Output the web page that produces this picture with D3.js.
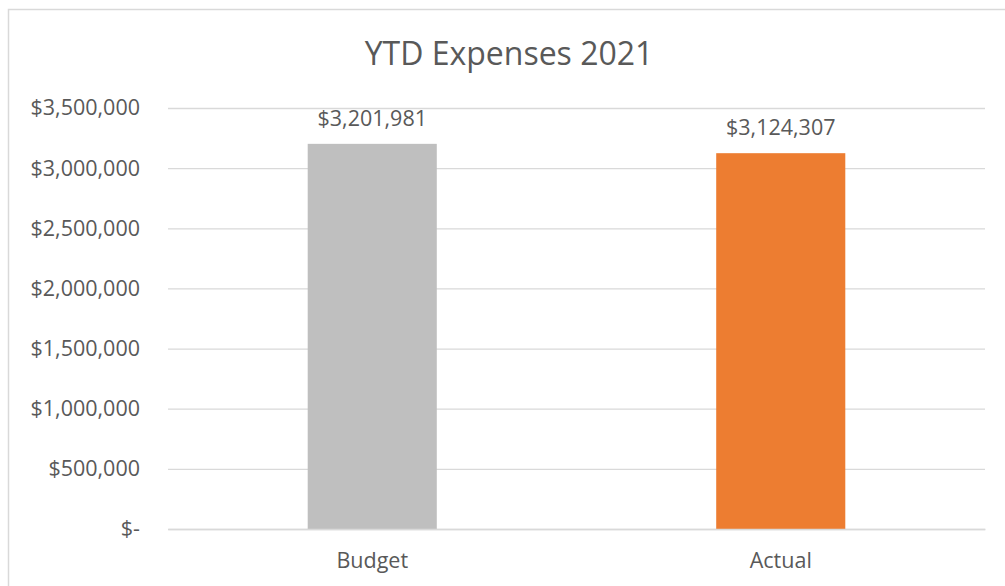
<!DOCTYPE html>
<html>
<head>
<meta charset="utf-8">
<script src="https://cdn.jsdelivr.net/npm/d3@7"></script>
<style>
  html, body { margin: 0; padding: 0; background: #fff; }
  svg { display: block; }
  text { font-family: "Open Sans", "Noto Sans", sans-serif; fill: #595959; }
</style>
</head>
<body>
<svg id="chart" width="1005" height="586"></svg>
<script>
const title = "YTD Expenses 2021";
const categories = ["Budget", "Actual"];
const values = [3201981, 3124307];
const barColors = ["#BFBFBF", "#ED7D31"];
const yTicks = [0, 500000, 1000000, 1500000, 2000000, 2500000, 3000000, 3500000];

const svg = d3.select("#chart");
const W = 1005, H = 586;
const margin = { left: 168, right: 20, top: 108, bottom: 57 };
const labelSize = "21.5px";

// chart border
svg.append("rect")
  .attr("x", 8.5).attr("y", 9.5)
  .attr("width", 1010).attr("height", 600)
  .attr("fill", "none").attr("stroke", "#D9D9D9").attr("stroke-width", 1.5);

const x = d3.scaleBand()
  .domain(categories)
  .range([margin.left, W - margin.right])
  .paddingInner(0.684)
  .paddingOuter(0.342);

const y = d3.scaleLinear()
  .domain([0, 3500000])
  .range([H - margin.bottom, margin.top]);

const fmt = v => v === 0 ? "$-" : "$" + d3.format(",")(v);

// gridlines + y labels
const yAxis = d3.axisLeft(y)
  .tickValues(yTicks)
  .tickSize(-(W - margin.right - margin.left))
  .tickFormat(fmt)
  .tickPadding(28);

const gy = svg.append("g")
  .attr("transform", `translate(${margin.left},0)`)
  .call(yAxis);
gy.select(".domain").remove();
gy.selectAll(".tick line").attr("stroke", "#D9D9D9").attr("stroke-width", 1.3);
gy.selectAll(".tick text")
  .attr("font-size", labelSize)
  .style("fill", "#595959")
  .attr("font-family", "Open Sans, Noto Sans, sans-serif");

// bars
svg.append("g").selectAll("rect")
  .data(categories)
  .join("rect")
  .attr("x", d => x(d))
  .attr("width", x.bandwidth())
  .attr("y", (d, i) => y(values[i]))
  .attr("height", (d, i) => y(0) - y(values[i]))
  .attr("fill", (d, i) => barColors[i]);

// data labels
svg.append("g").selectAll("text")
  .data(categories)
  .join("text")
  .attr("x", d => x(d) + x.bandwidth() / 2)
  .attr("y", (d, i) => y(values[i]) - 18)
  .attr("text-anchor", "middle")
  .attr("font-size", labelSize)
  .text((d, i) => "$" + d3.format(",")(values[i]));

// x axis
const xAxis = d3.axisBottom(x).tickSize(0).tickPadding(24);
const gx = svg.append("g")
  .attr("transform", `translate(0,${y(0)})`)
  .call(xAxis);
gx.select(".domain").attr("stroke", "#D9D9D9").attr("stroke-width", 1.3);
gx.selectAll(".tick text")
  .attr("font-size", labelSize)
  .style("fill", "#595959")
  .attr("font-family", "Open Sans, Noto Sans, sans-serif");

// title
svg.append("text")
  .attr("x", 509)
  .attr("y", 65)
  .attr("text-anchor", "middle")
  .attr("font-size", "32px")
  .text(title);
</script>
</body>
</html>
